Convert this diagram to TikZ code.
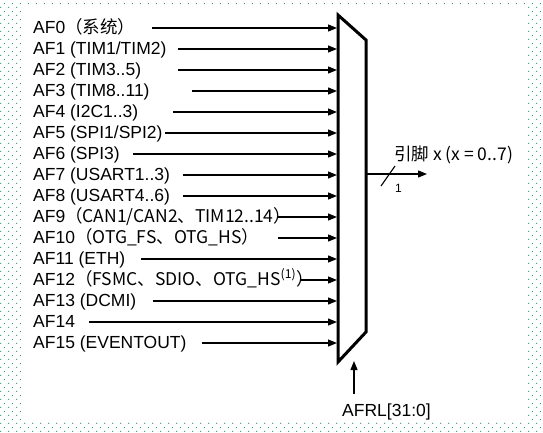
\documentclass[tikz,border=0pt]{standalone}
\usepackage{fontspec}
\setmainfont{Liberation Sans}
\newfontfamily\cjk{Noto Sans CJK SC}
\usetikzlibrary{arrows.meta,patterns.meta}
\definecolor{dotteal}{RGB}{25,140,118}

\tikzdeclarepattern{
  name=bgdots, type=uncolored,
  bounding box={(0pt,0pt) and (8pt,8pt)},
  tile size={(8pt,8pt)},
  code={
    \pgfpathcircle{\pgfpoint{2pt}{2pt}}{0.65pt}
    \pgfpathcircle{\pgfpoint{6pt}{6pt}}{0.65pt}
    \pgfusepath{fill}
  }}

\begin{document}
\begin{tikzpicture}[x=1pt, y=-1pt, font=\fontsize{17.5}{20}\selectfont]

    % Styles
    \tikzstyle{afin} = [anchor=base west, inner sep=0pt]
    \tikzstyle{arrow} = [-{Triangle[length=9pt,width=7pt]}, line width=1.3pt]
    \tikzstyle{mux} = [line width=3pt, line join=miter]

    \useasboundingbox (0,0) rectangle (543,432);

    % Dotted frame
    \path[pattern=bgdots, pattern color=dotteal, even odd rule] (0,0) rectangle (543,432) (22,6) rectangle (526,420);

    % Multiplexer
    \coordinate (mux tl) at (338,15);
    \coordinate (mux tr) at (366,40);
    \coordinate (mux br) at (366,332);
    \coordinate (mux bl) at (338,362);
    \draw[mux] (mux tl) -- (mux tr) -- (mux br) -- (mux bl) -- cycle;

    % Inputs
    \foreach \n/\xs/\txt in {
        0/152/{AF0\cjk{（系统）}},
        1/178/{AF1 (TIM1/TIM2)},
        2/178/{AF2 (TIM3..5)},
        3/192/{AF3 (TIM8..11)},
        4/173/{AF4 (I2C1..3)},
        5/165/{AF5 (SPI1/SPI2)},
        6/133/{AF6 (SPI3)},
        7/183/{AF7 (USART1..3)},
        8/183/{AF8 (USART4..6)},
        9/278/{AF9\cjk{（}CAN1/CAN2\cjk{、}TIM12..14\cjk{）}},
        10/278/{AF10\cjk{（}OTG\_FS\cjk{、}OTG\_HS\cjk{）}},
        11/141/{AF11 (ETH)},
        12/300/{AF12\cjk{（}FSMC\cjk{、}SDIO\cjk{、}OTG\_HS\textsuperscript{(1)}\cjk{）}},
        13/153/{AF13 (DCMI)},
        14/89/{AF14},
        15/202/{AF15 (EVENTOUT)}} {
        \node[afin] (af\n) at (33,{33+21*\n}) {\txt};
        \coordinate (s\n) at (\xs,{28+21*\n});
        \coordinate (e\n) at (337,{28+21*\n});
        \draw[arrow] (s\n) -- (e\n);
    }

    % Output pin
    \coordinate (out) at (366,174);
    \coordinate (pin) at (427,174);
    \draw[arrow] (out) -- (pin);
    \coordinate (slash a) at (381,186);
    \coordinate (slash b) at (395,166);
    \draw[line width=1.1pt] (slash a) -- (slash b);
    \node[afin] (pin label) at (394,160) {\cjk{引脚} x (x = 0..7)};
    \node[afin, font=\fontsize{12}{14}\selectfont] (width label) at (395,192) {1};

    % Select
    \coordinate (sel) at (354,394);
    \coordinate (sel tip) at (354,361);
    \draw[arrow] (sel) -- (sel tip);
    \node[afin] (sel label) at (342,416) {AFRL[31:0]};

\end{tikzpicture}
\end{document}
